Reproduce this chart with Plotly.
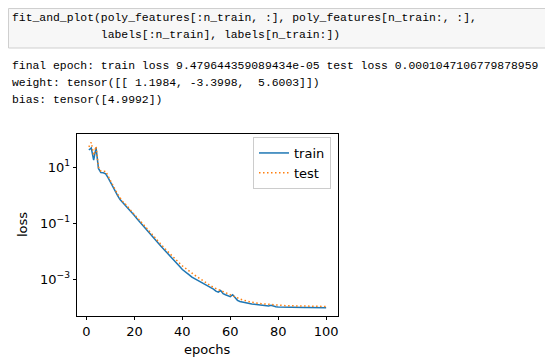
import plotly.graph_objects as go

# The page body has an 8px margin; the figure is sized so it fits the 553x362 window.
PAGE_W, PAGE_H = 553, 362
OFF = 8
W, H = PAGE_W - OFF, PAGE_H - OFF

# ---- data ----
epochs = list(range(1, 101))
train_loss = [
    40.7, 47.9, 17.8, 49.0, 8.91, 6.31, 6.2, 5.75, 4.17, 2.82,
    2.00, 1.38, 0.955, 0.692, 0.562, 0.457, 0.363, 0.282, 0.229, 0.186,
    0.145, 0.117, 0.0933, 0.0741, 0.0589, 0.0479, 0.0372, 0.0302, 0.0240, 0.0191,
    0.0151, 0.0123, 0.00977, 0.00776, 0.00631, 0.00501, 0.00417, 0.00347, 0.00275, 0.00219,
    0.00191, 0.00166, 0.00138, 0.00117, 0.00105, 9.55e-4, 8.71e-4, 7.76e-4, 6.92e-4, 6.17e-4,
    5.50e-4, 5.01e-4, 4.37e-4, 3.72e-4, 3.39e-4, 3.89e-4, 3.02e-4, 2.75e-4, 2.57e-4, 2.34e-4,
    2.75e-4, 2.09e-4, 1.74e-4, 1.58e-4, 1.51e-4, 1.41e-4, 1.35e-4, 1.32e-4, 1.29e-4, 1.26e-4,
    1.23e-4, 1.17e-4, 1.15e-4, 1.12e-4, 1.11e-4, 1.10e-4, 1.15e-4, 1.05e-4, 1.02e-4, 1.01e-4,
    1.00e-4, 9.98e-5, 9.95e-5, 9.77e-5, 9.75e-5, 9.72e-5, 9.70e-5, 9.65e-5, 9.62e-5, 9.60e-5,
    9.58e-5, 9.57e-5, 9.56e-5, 9.55e-5, 9.54e-5, 9.53e-5, 9.52e-5, 9.50e-5, 9.49e-5, 9.479644359089434e-05,
]
test_loss = [
    52.5, 75.9, 26.3, 55.0, 10.0, 7.24, 6.92, 7.08, 4.79, 3.16,
    2.29, 1.55, 1.07, 0.759, 0.603, 0.501, 0.389, 0.309, 0.251, 0.200,
    0.162, 0.129, 0.105, 0.0832, 0.0661, 0.0537, 0.0427, 0.0347, 0.0275, 0.0219,
    0.0178, 0.0141, 0.0115, 0.00933, 0.00759, 0.00617, 0.00513, 0.00427, 0.00355, 0.00295,
    0.00251, 0.00214, 0.00186, 0.00162, 0.00141, 0.00123, 0.00107, 9.33e-4, 8.13e-4, 7.08e-4,
    6.31e-4, 5.62e-4, 5.01e-4, 4.57e-4, 4.17e-4, 3.89e-4, 3.55e-4, 3.24e-4, 2.95e-4, 2.75e-4,
    2.51e-4, 2.29e-4, 2.09e-4, 1.95e-4, 1.82e-4, 1.70e-4, 1.62e-4, 1.55e-4, 1.48e-4, 1.41e-4,
    1.38e-4, 1.35e-4, 1.32e-4, 1.29e-4, 1.26e-4, 1.23e-4, 1.22e-4, 1.20e-4, 1.17e-4, 1.16e-4,
    1.15e-4, 1.14e-4, 1.12e-4, 1.115e-4, 1.11e-4, 1.10e-4, 1.09e-4, 1.085e-4, 1.08e-4, 1.07e-4,
    1.07e-4, 1.065e-4, 1.06e-4, 1.06e-4, 1.055e-4, 1.055e-4, 1.05e-4, 1.05e-4, 1.048e-4, 1.047106779878959e-4,
]
x_ticks = [0, 20, 40, 60, 80, 100]
y_ticks = [10, 0.1, 0.001]
y_ticktext = ["10<sup>1</sup>", "10<sup>\u22121</sup>", "10<sup>\u22123</sup>"]

code_lines = [
    "fit_and_plot(poly_features[:n_train, :], poly_features[n_train:, :],",
    "             labels[:n_train], labels[n_train:])",
]
output_lines = [
    "final epoch: train loss 9.479644359089434e-05 test loss 0.0001047106779878959",
    "weight: tensor([[ 1.1984, -3.3998,  5.6003]])",
    "bias: tensor([4.9992])",
]

# ---- helpers (page pixel -> paper fraction) ----
def px(x):
    return (x - OFF) / W

def py(y):
    return 1 - (y - OFF) / H

# plot area in page pixels
L, R, T, B = 77, 338, 134, 316

fig = go.Figure()
fig.add_trace(go.Scatter(x=epochs, y=train_loss, mode="lines", name="train",
                         line=dict(color="#1f77b4", width=1.5)))
fig.add_trace(go.Scatter(x=epochs, y=test_loss, mode="lines", name="test",
                         line=dict(color="#ff7f0e", width=1.5, dash="1.5px,2.5px")))

FS = 13
tickfont = dict(family="DejaVu Sans", size=FS, color="black")
fig.update_layout(
    width=W, height=H,
    margin=dict(l=0, r=0, t=0, b=0),
    paper_bgcolor="white", plot_bgcolor="white",
    showlegend=True,
    legend=dict(x=px(331), y=py(137), xanchor="right", yanchor="top",
                bgcolor="rgba(255,255,255,0.8)", bordercolor="#cccccc", borderwidth=1,
                font=dict(family="DejaVu Sans", size=FS, color="black")),
    xaxis=dict(domain=[px(L), px(R)], range=[-3.95, 104.95], tickvals=x_ticks,
               showgrid=False, zeroline=False, showline=True, mirror=True,
               linecolor="black", linewidth=0.8, ticks="outside", ticklen=3.5,
               tickwidth=0.8, tickcolor="black", tickfont=tickfont, anchor="y"),
    yaxis=dict(domain=[py(B), py(T)], type="log", range=[-4.32, 2.18],
               tickvals=y_ticks, ticktext=y_ticktext,
               showgrid=False, zeroline=False, showline=True, mirror=True,
               linecolor="black", linewidth=0.8, ticks="outside", ticklen=3.5,
               tickwidth=0.8, tickcolor="black", tickfont=tickfont, anchor="x"),
)

# notebook code cell box
fig.add_shape(type="rect", xref="paper", yref="paper",
              x0=px(8.5), x1=px(600), y0=py(48), y1=py(8.5),
              fillcolor="#f7f7f7", line=dict(color="#cfcfcf", width=1), layer="below")

mono = dict(family="Liberation Mono", size=11.4, color="black")
for i, line in enumerate(code_lines):
    fig.add_annotation(x=px(10), y=py(18.3 + 17 * i), xref="paper", yref="paper",
                       text=line.replace(" ", "&nbsp;"), showarrow=False,
                       xanchor="left", yanchor="middle", font=mono)
for i, line in enumerate(output_lines):
    fig.add_annotation(x=px(10), y=py(66 + 16.8 * i), xref="paper", yref="paper",
                       text=line.replace(" ", "&nbsp;"), showarrow=False,
                       xanchor="left", yanchor="middle", font=mono)

# axis titles
labfont = dict(family="DejaVu Sans", size=FS, color="black")
fig.add_annotation(x=px((L + R) / 2), y=py(349), xref="paper", yref="paper",
                   text="epochs", showarrow=False, xanchor="center", yanchor="middle",
                   font=labfont)
fig.add_annotation(x=px(23), y=py((T + B) / 2), xref="paper", yref="paper",
                   text="loss", showarrow=False, xanchor="center", yanchor="middle",
                   textangle=-90, font=labfont)

fig.write_html("out.html", config={"displayModeBar": False})
